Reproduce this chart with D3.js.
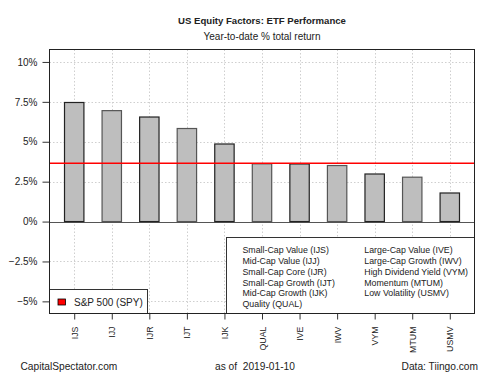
<!DOCTYPE html>
<html>
<head>
<meta charset="utf-8">
<script src="https://cdn.jsdelivr.net/npm/d3@7"></script>
<style>
  html, body { margin: 0; padding: 0; background: #fff; }
  svg { display: block; font-family: "Liberation Sans", Arial, sans-serif; }
</style>
</head>
<body>
<svg id="chart" width="500" height="375"></svg>
<script>
// ---- data ----
const tickers = ["IJS", "IJJ", "IJR", "IJT", "IJK", "QUAL", "IVE", "IWV", "VYM", "MTUM", "USMV"];
const returns = [7.46, 6.95, 6.55, 5.83, 4.86, 3.62, 3.61, 3.51, 2.98, 2.78, 1.79];
const spyReturn = 3.65;
const yTicks = [-5, -2.5, 0, 2.5, 5, 7.5, 10];
const legendCol1 = ["Small-Cap Value (IJS)", "Mid-Cap Value (IJJ)", "Small-Cap Core (IJR)", "Small-Cap Growth (IJT)", "Mid-Cap Growth (IJK)", "Quality (QUAL)"];
const legendCol2 = ["Large-Cap Value (IVE)", "Large-Cap Growth (IWV)", "High Dividend Yield (VYM)", "Momentum (MTUM)", "Low Volatility (USMV)"];
const spyLabel = "S&P 500 (SPY)";
const title = "US Equity Factors: ETF Performance";
const subtitle = "Year-to-date % total return";

// ---- layout ----
const svg = d3.select("#chart");
const L = 49.5, R = 474.5, T = 49.5, B = 313.5;
const FONT = "Liberation Sans, Arial, sans-serif";

const y = d3.scaleLinear().domain([-5.76, 10.78]).range([B, T]);
const x = d3.scalePoint().domain(tickers).range([L, R]).padding(0.658);
const barW = 19.4;

// grid
const grid = svg.append("g").attr("stroke", "#cfcfcf").attr("stroke-dasharray", "1.5,2").attr("stroke-width", 1);
yTicks.forEach(v => {
  grid.append("line").attr("x1", L).attr("x2", R).attr("y1", Math.round(y(v)) + 0.5).attr("y2", Math.round(y(v)) + 0.5);
});
tickers.forEach(t => {
  grid.append("line").attr("x1", Math.round(x(t)) + 0.5).attr("x2", Math.round(x(t)) + 0.5).attr("y1", T).attr("y2", B);
});

// zero line
svg.append("line").attr("x1", L).attr("x2", R)
  .attr("y1", Math.round(y(0)) + 0.5).attr("y2", Math.round(y(0)) + 0.5)
  .attr("stroke", "#555").attr("stroke-width", 1);

// bars
svg.append("g").selectAll("rect").data(tickers).join("rect")
  .attr("x", (d) => x(d) - barW / 2)
  .attr("width", barW)
  .attr("y", (d, i) => y(returns[i]))
  .attr("height", (d, i) => y(0) - y(returns[i]))
  .attr("fill", "#bebebe")
  .attr("stroke", (d, i) => i % 2 === 0 ? "#222" : "#555")
  .attr("stroke-width", 1.2);

// SPY line
svg.append("line").attr("x1", L).attr("x2", R)
  .attr("y1", y(spyReturn)).attr("y2", y(spyReturn))
  .attr("stroke", "#ff0000").attr("stroke-width", 1.6);

// y axis
const yAxis = svg.append("g").attr("transform", `translate(${L},0)`)
  .call(d3.axisLeft(y).tickValues(yTicks).tickSize(7).tickPadding(5)
    .tickFormat(d => d3.format("")(d) + "%"));
yAxis.select(".domain").remove();
yAxis.selectAll(".tick line").attr("stroke", "#333");
yAxis.selectAll("text").attr("font-size", 10).attr("fill", "#222").attr("font-family", FONT);

// x axis
const xAxis = svg.append("g").attr("transform", `translate(0,${B})`)
  .call(d3.axisBottom(x).tickSize(6).tickPadding(5));
xAxis.select(".domain").remove();
xAxis.selectAll(".tick line").attr("stroke", "#333");
xAxis.selectAll("text")
  .attr("font-size", 8.8).attr("fill", "#222").attr("font-family", FONT)
  .attr("transform", "rotate(-90)")
  .attr("text-anchor", "end")
  .attr("x", -13).attr("y", 0).attr("dy", "0.35em");

// plot border
svg.append("rect").attr("x", L).attr("y", T).attr("width", R - L).attr("height", B - T)
  .attr("fill", "none").attr("stroke", "#222").attr("stroke-width", 1);

// legend right
const lg = svg.append("g");
lg.append("rect").attr("x", 226.5).attr("y", 237.5).attr("width", R - 226.5).attr("height", B - 237.5)
  .attr("fill", "#fff").attr("stroke", "#333").attr("stroke-width", 1);
legendCol1.forEach((s, i) => {
  lg.append("text").attr("x", 242.5).attr("y", 250 + i * 10.85).attr("dy", "0.35em")
    .attr("font-size", 8.8).attr("fill", "#222").text(s);
});
legendCol2.forEach((s, i) => {
  lg.append("text").attr("x", 364.3).attr("y", 250 + i * 10.85).attr("dy", "0.35em")
    .attr("font-size", 8.8).attr("fill", "#222").text(s);
});

// legend left
const ll = svg.append("g");
ll.append("rect").attr("x", L).attr("y", 289.5).attr("width", 147.5 - L).attr("height", B - 289.5)
  .attr("fill", "#fff").attr("stroke", "#333").attr("stroke-width", 1);
ll.append("rect").attr("x", 58).attr("y", 299).attr("width", 7.5).attr("height", 6)
  .attr("fill", "#ff0000").attr("stroke", "#000").attr("stroke-width", 0.8);
ll.append("text").attr("x", 74).attr("y", 302.3).attr("dy", "0.35em")
  .attr("font-size", 10).attr("fill", "#222").text(spyLabel);

// border again on top of legends
svg.append("rect").attr("x", L).attr("y", T).attr("width", R - L).attr("height", B - T)
  .attr("fill", "none").attr("stroke", "#222").attr("stroke-width", 1);

// titles
svg.append("text").attr("x", (L + R) / 2).attr("y", 23.5).attr("text-anchor", "middle")
  .attr("font-size", 9.6).attr("font-weight", "bold").attr("fill", "#222").text(title);
svg.append("text").attr("x", (L + R) / 2).attr("y", 40).attr("text-anchor", "middle")
  .attr("font-size", 10).attr("fill", "#222").text(subtitle);

// footer
svg.append("text").attr("x", 20.5).attr("y", 370).attr("font-size", 10.2).attr("fill", "#222").text("CapitalSpectator.com");
svg.append("text").attr("x", 215).attr("y", 370).attr("font-size", 10.2).attr("fill", "#222").attr("xml:space", "preserve").text("as of  2019-01-10");
svg.append("text").attr("x", 478).attr("y", 370).attr("text-anchor", "end").attr("font-size", 10.2).attr("fill", "#222").text("Data: Tiingo.com");
</script>
</body>
</html>
